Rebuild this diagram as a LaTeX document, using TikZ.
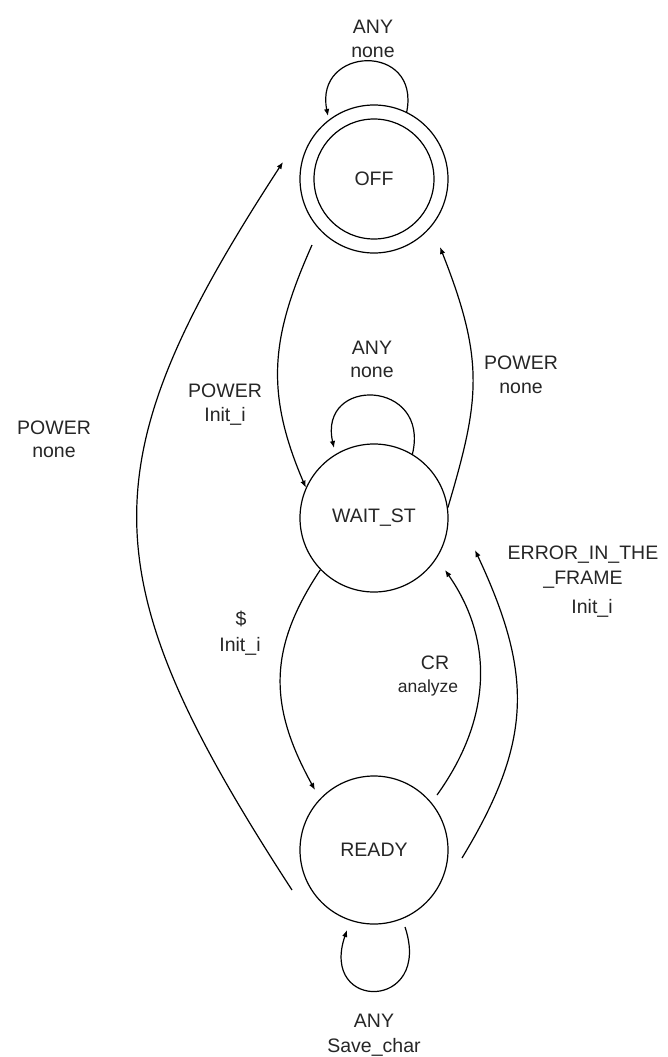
\documentclass[tikz,border=0pt]{standalone}
\usepackage{fontspec}
\setmainfont{Liberation Sans}
\usetikzlibrary{arrows.meta,calc}
\tikzset{
  statebox/.style={draw, circle, line width=1.2pt, minimum size=148pt, inner sep=0pt,
    font=\fontsize{19.5}{23}\selectfont, text=black!85},
  lbl/.style={anchor=base, inner sep=0pt, font=\fontsize{19.5}{23}\selectfont, text=black!85},
  lblsmall/.style={anchor=base, inner sep=0pt, font=\fontsize{17.5}{21}\selectfont, text=black!85},
  trans/.style={line width=1.2pt, -{Latex[length=7pt,width=5.5pt]}}
}
\begin{document}
\begin{tikzpicture}[x=1pt,y=-1pt]
\useasboundingbox (0,0) rectangle (667,1057);
\fill[white] (0,0) rectangle (667,1057);

% states
\node[statebox] (off) at (374,179) {OFF};
\draw[line width=1.2pt] (off.center) circle[radius=60pt];
\node[statebox] (wait) at (374,518) {WAIT\_ST};
\node[statebox] (ready) at (374,850) {READY};

% self loops
\draw[trans] (off.64) .. controls +(14,-70) and +(-14,-70) .. ($(off.center)+(-46,-63)$);
\draw[trans] (wait.59) .. controls +(18,-75) and +(-16,-72) .. ($(wait.center)+(-40,-70)$);
\draw[trans] ($(ready.center)+(31,77)$) .. controls +(28,84) and +(-28,82) .. ($(ready.center)+(-27,80)$);

% transitions
\draw[trans] ($(ready.center)+(-82,40)$) .. controls +(-205,-315) and +(-196,301) .. ($(off.center)+(-91,-17)$);
\draw[trans] ($(off.center)+(-62,66)$) .. controls +(-40,90) and +(-42,-98) .. (wait.156);
\draw[trans] (wait.8.5) .. controls +(32,-108) and +(45,114) .. ($(off.center)+(66,68)$);
\draw[trans] (wait.224) .. controls +(-52,78) and +(-47,-85) .. ($(ready.center)+(-59,-60)$);
\draw[trans] ($(ready.center)+(63,-55)$) .. controls +(56,-78) and +(48,69) .. ($(wait.center)+(71,52)$);
\draw[trans] ($(ready.center)+(88,8)$) .. controls +(71,-117) and +(58,124) .. ($(wait.center)+(101,32)$);

% labels
\node[lbl] (offloopa) at (373,34) {ANY};
\node[lbl] (offloopb) at (373,57) {none};
\node[lbl] (waitloopa) at (372,354) {ANY};
\node[lbl] (waitloopb) at (372,377) {none};
\node[lbl] (pwiA) at (225,397) {POWER};
\node[lbl] (pwiB) at (225,421) {Init\_i};
\node[lbl] (pwnA) at (521,369) {POWER};
\node[lbl] (pwnB) at (521,393) {none};
\node[lbl] (pwlA) at (54,434) {POWER};
\node[lbl] (pwlB) at (54,457) {none};
\node[lbl] (dolA) at (241,625) {\$};
\node[lbl] (dolB) at (240,651) {Init\_i};
\node[lbl] (crA) at (435,669) {CR};
\node[lblsmall] (crB) at (428,692) {analyze};
\node[lbl] (errA) at (583,559) {ERROR\_IN\_THE};
\node[lbl] (errB) at (583,584) {\_FRAME};
\node[lbl] (errC) at (592,613) {Init\_i};
\node[lbl] (rdyA) at (374,1027) {ANY};
\node[lbl] (rdyB) at (374,1052) {Save\_char};
\end{tikzpicture}
\end{document}
